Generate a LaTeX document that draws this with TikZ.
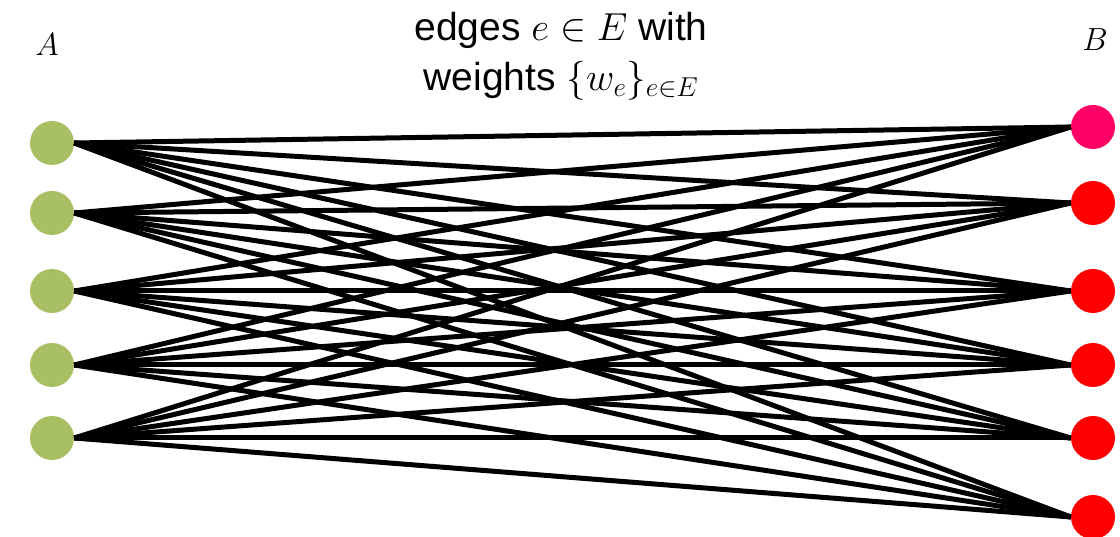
\RequirePackage{fix-cm}
\documentclass[tikz,border=0pt]{standalone}
\usepackage{fontspec}
\setmainfont{Liberation Sans}
\definecolor{olivenode}{HTML}{A8BF64}
\definecolor{pinknode}{HTML}{FF0066}
\definecolor{rednode}{HTML}{FF0000}
\begin{document}
\begin{tikzpicture}[x=1pt,y=-1pt,
  vtx/.style={circle,inner sep=0pt,minimum size=44pt,draw=none},
  edgeline/.style={line width=5pt,black},
  setlabel/.style={font=\fontsize{32}{36}\selectfont}]
\useasboundingbox (0,0) rectangle (1120,537);
\clip (0,0) rectangle (1120,537);
% left nodes
\foreach \i/\y in {1/143,2/213,3/291,4/365,5/438}
  \node[vtx,fill=olivenode] (a\i) at (52,\y) {};
% right nodes
\node[vtx,fill=pinknode] (b1) at (1093,127) {};
\foreach \i/\y in {2/203,3/291,4/365,5/438,6/517}
  \node[vtx,fill=rednode] (b\i) at (1093,\y) {};
% edges
\foreach \i in {1,...,5}
  \foreach \j in {1,...,6}
    \draw[edgeline] (a\i.east) -- (b\j.west);
% labels
\node[setlabel] (la) at (47,45) {$A$};
\node[setlabel] (lb) at (1095,40) {$B$};
\node[font=\fontsize{39}{50}\selectfont,align=center] (title) at (561,56)
  {edges $e\in E$ with\\ weights $\{w_e\}_{e\in E}$};
\end{tikzpicture}
\end{document}
